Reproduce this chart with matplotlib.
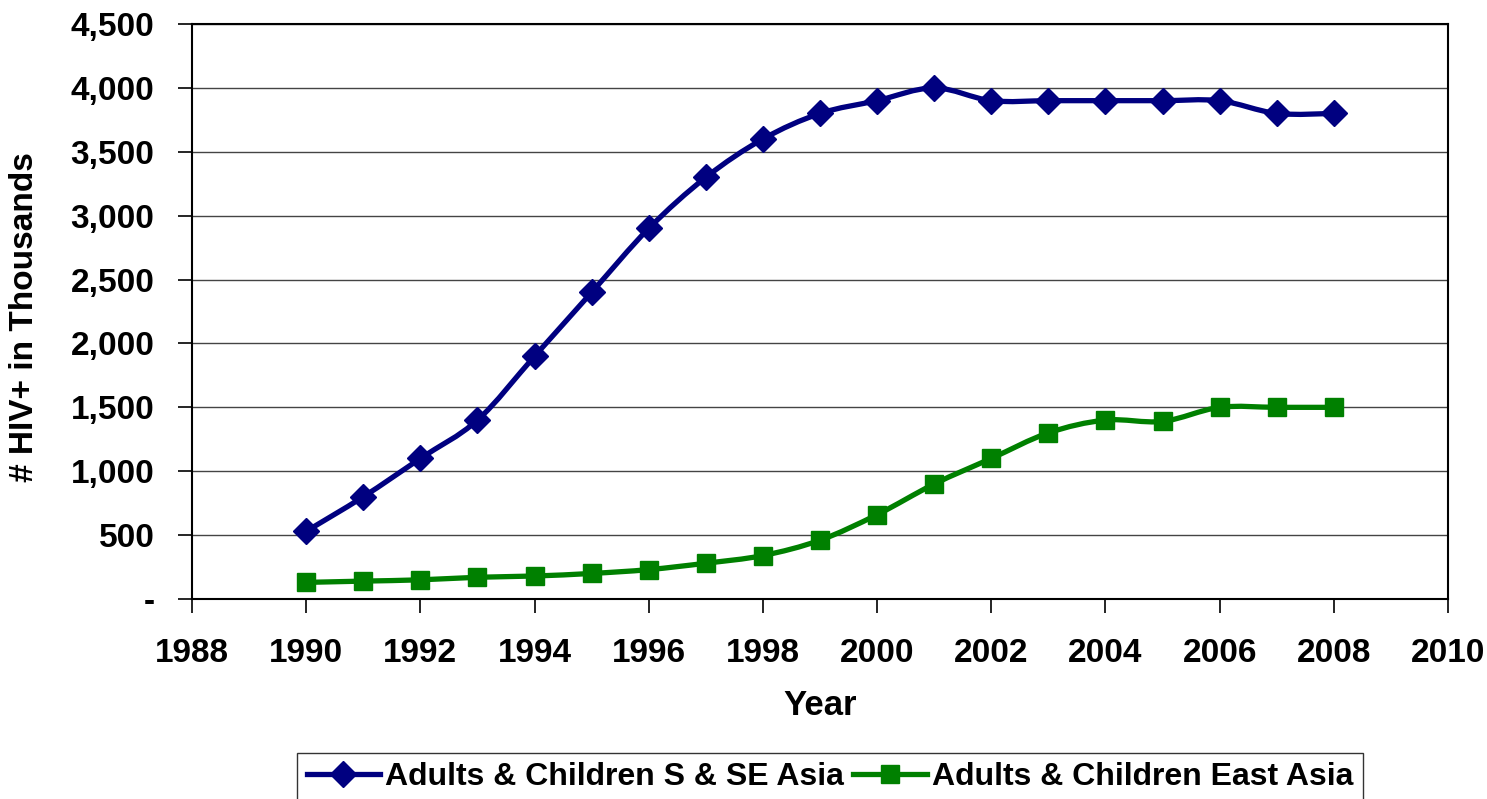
import matplotlib
matplotlib.use("Agg")
import matplotlib.pyplot as plt
import numpy as np
from matplotlib.path import Path
from matplotlib.patches import PathPatch
from matplotlib.lines import Line2D
from matplotlib.ticker import FuncFormatter

years = list(range(1990, 2009))
s_se_asia = [530, 800, 1100, 1400, 1900, 2400, 2900, 3300, 3600, 3800,
             3900, 4000, 3900, 3900, 3900, 3900, 3900, 3800, 3800]
east_asia = [130, 140, 150, 170, 180, 200, 230, 280, 340, 460,
             660, 900, 1100, 1300, 1400, 1390, 1500, 1500, 1500]
labels = ["Adults & Children S & SE Asia", "Adults & Children East Asia"]

BLUE = "#000080"
GREEN = "#008000"

plt.rcParams["font.family"] = ["Liberation Sans", "DejaVu Sans"]
plt.rcParams["font.weight"] = "bold"


def smooth_path(x, y):
    # cubic bezier through every point, control points from the neighbours
    pts = np.column_stack([x, y]).astype(float)
    n = len(pts)
    verts = [pts[0]]
    codes = [Path.MOVETO]
    for i in range(n - 1):
        p0 = pts[i - 1] if i > 0 else pts[i]
        p1 = pts[i]
        p2 = pts[i + 1]
        p3 = pts[i + 2] if i + 2 < n else pts[i + 1]
        c1 = p1 + (p2 - p0) / 6.0
        c2 = p2 - (p3 - p1) / 6.0
        verts += [c1, c2, p2]
        codes += [Path.CURVE4] * 3
    return Path(verts, codes)


fig = plt.figure(figsize=(14.87, 7.99), dpi=100)
ax = fig.add_axes([192 / 1487, 1 - 599 / 799, 1256 / 1487, 575 / 799])

for vals, col, mk, ms in [(s_se_asia, BLUE, "D", 13), (east_asia, GREEN, "s", 13)]:
    ax.add_patch(PathPatch(smooth_path(years, vals), fill=False,
                           edgecolor=col, lw=3.8, zorder=3))
    ax.plot(years, vals, linestyle="none", marker=mk, ms=ms,
            color=col, mec=col, zorder=4)

ax.set_xlim(1988, 2010)
ax.set_ylim(0, 4500)
ax.set_xticks(range(1988, 2011, 2))
ax.set_yticks(range(0, 4501, 500))
ax.yaxis.set_major_formatter(FuncFormatter(lambda v, p: "-" if v == 0 else f"{int(v):,}"))
ax.grid(axis="y", color="#444444", lw=1.0)
ax.set_axisbelow(True)
for sp in ax.spines.values():
    sp.set_color("black")
    sp.set_linewidth(1.5)
ax.tick_params(axis="both", direction="out", length=10, width=1.2, labelsize=24)
ax.tick_params(axis="x", pad=18)
ax.tick_params(axis="y", pad=17)

ax.set_xlabel("Year", fontsize=25, fontweight="bold")
ax.xaxis.set_label_coords(0.5, (599 - 689) / 575)
ax.set_ylabel("# HIV+ in Thousands", fontsize=24, fontweight="bold")
ax.yaxis.set_label_coords((40 - 192) / 1256, 0.49)

handles = [Line2D([], [], color=BLUE, lw=3.8, marker="D", ms=13),
           Line2D([], [], color=GREEN, lw=3.8, marker="s", ms=13)]
leg = fig.legend(handles, labels, loc="upper center", bbox_to_anchor=(0.558, 0.058),
                 ncol=2, fontsize=23, frameon=True, fancybox=False,
                 handlelength=2.3, handletextpad=0.15, columnspacing=0.3,
                 borderpad=0.3, borderaxespad=0)
leg.get_frame().set_edgecolor("black")
leg.get_frame().set_linewidth(1.0)

fig.savefig("out.png", dpi=100)
